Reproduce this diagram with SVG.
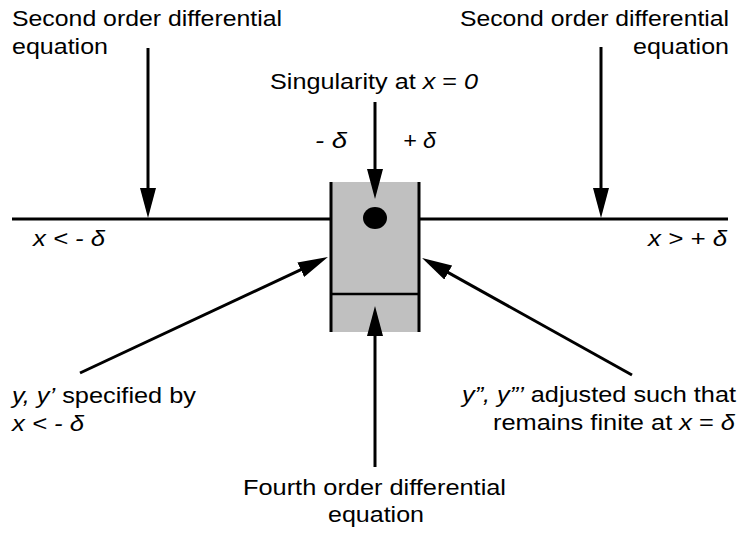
<svg xmlns="http://www.w3.org/2000/svg" width="741" height="533" viewBox="0 0 741 533">
<style>
.t{font-family:"Liberation Sans",Arial,sans-serif;font-size:22px;fill:#000}
.i{font-style:italic}
.ln{stroke:#000;stroke-width:3;fill:none}
.ar{stroke:#000;stroke-width:3;fill:none;marker-end:url(#ah)}
</style>
<defs>
<marker id="ah" markerUnits="userSpaceOnUse" markerWidth="30" markerHeight="16" refX="2" refY="8" orient="auto" viewBox="0 0 30 16">
<path d="M0,0 L30,8 L0,16 z" fill="#000"/>
</marker>
</defs>
<rect width="741" height="533" fill="#fff"/>

<g id="axis">
<line class="ln" x1="12" y1="219" x2="331" y2="219"/>
<line class="ln" x1="419" y1="219" x2="728" y2="219"/>
<text class="t i" x="33" y="246" textLength="72" lengthAdjust="spacingAndGlyphs">x &lt; - δ</text>
<text class="t i" x="648" y="246" textLength="79" lengthAdjust="spacingAndGlyphs">x &gt; + δ</text>
</g>

<g id="singular-region">
<rect x="330" y="182" width="90" height="150" fill="#c0c0c0"/>
<line class="ln" x1="331" y1="182" x2="331" y2="332"/>
<line class="ln" x1="419" y1="182" x2="419" y2="332"/>
<line class="ln" x1="330" y1="294" x2="420" y2="294" style="stroke-width:2.5"/>
<ellipse cx="375" cy="218" rx="12" ry="11" fill="#000"/>
<text class="t i" x="315" y="148" textLength="32" lengthAdjust="spacingAndGlyphs">- δ</text>
<text class="t i" x="403" y="148" textLength="33" lengthAdjust="spacingAndGlyphs">+ δ</text>
</g>

<g id="label-second-left">
<text class="t" x="12" y="26" textLength="270" lengthAdjust="spacingAndGlyphs">Second order differential</text>
<text class="t" x="12" y="54" textLength="96" lengthAdjust="spacingAndGlyphs">equation</text>
</g>

<g id="label-second-right">
<text class="t" x="460" y="26" textLength="269" lengthAdjust="spacingAndGlyphs">Second order differential</text>
<text class="t" x="633" y="54" textLength="96" lengthAdjust="spacingAndGlyphs">equation</text>
</g>

<g id="label-singularity">
<text class="t" x="270" y="89" textLength="208" lengthAdjust="spacingAndGlyphs">Singularity at <tspan class="i">x</tspan> = <tspan class="i">0</tspan></text>
</g>

<g id="label-left-bottom">
<text class="t" x="12" y="403" textLength="184" lengthAdjust="spacingAndGlyphs"><tspan class="i">y, y’</tspan> specified by</text>
<text class="t i" x="12" y="431" textLength="72" lengthAdjust="spacingAndGlyphs">x &lt; - δ</text>
</g>

<g id="label-right-bottom">
<text class="t" x="462" y="402" textLength="274" lengthAdjust="spacingAndGlyphs"><tspan class="i">y”, y”’</tspan> adjusted such that</text>
<text class="t" x="493" y="430" textLength="242" lengthAdjust="spacingAndGlyphs">remains finite at <tspan class="i">x</tspan> = <tspan class="i">δ</tspan></text>
</g>

<g id="label-fourth">
<text class="t" x="243" y="495" textLength="263" lengthAdjust="spacingAndGlyphs">Fourth order differential</text>
<text class="t" x="328" y="522" textLength="96" lengthAdjust="spacingAndGlyphs">equation</text>
</g>

<g id="connectors">
<line class="ar" x1="148" y1="48" x2="148" y2="190"/>
<line class="ar" x1="601" y1="47" x2="601" y2="190"/>
<line class="ar" x1="375" y1="102" x2="375" y2="171"/>
<line class="ar" x1="375" y1="467" x2="375" y2="334"/>
<line class="ar" x1="80" y1="373" x2="302.6" y2="268.9"/>
<line class="ar" x1="632" y1="375" x2="446.5" y2="271.6"/>
</g>
</svg>
